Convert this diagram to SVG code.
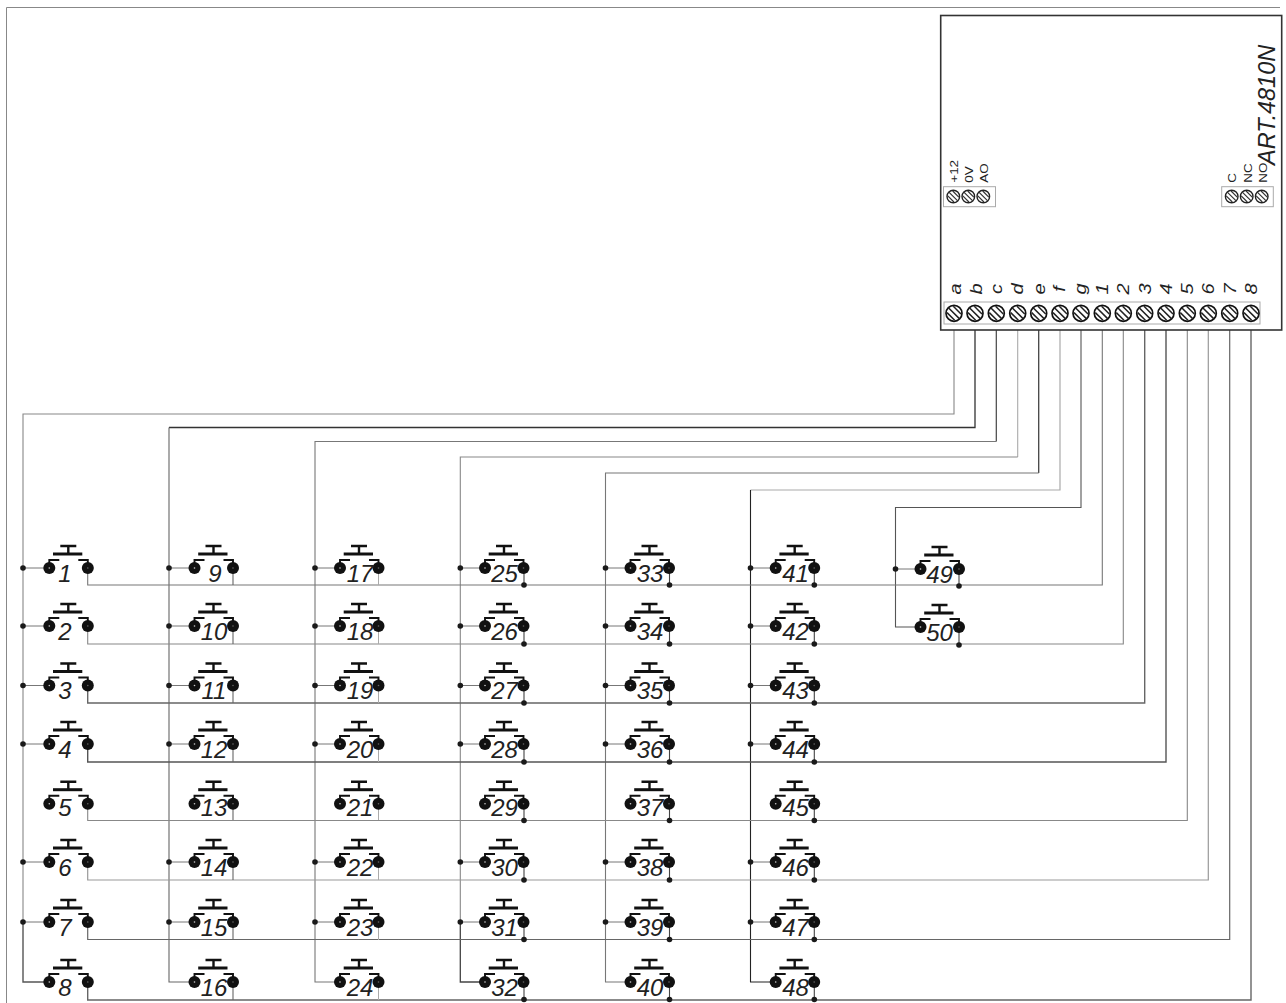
<svg xmlns="http://www.w3.org/2000/svg" width="1286" height="1003" viewBox="0 0 1286 1003">
<style>
.w{fill:none;stroke-linejoin:miter}
.t{font-family:"Liberation Sans",Arial,sans-serif;fill:#222}
.n{font-size:24px;font-style:italic;text-anchor:middle}
.l{font-size:16px;font-style:italic;text-anchor:middle}
.s{font-size:11.5px}
.d{fill:#1a1a1a}
.sb{fill:#fff;stroke:#aaa;stroke-width:1}
</style>
<defs>
<g id="btn">
<path d="M11 -22H27M19 -22V-14" fill="none" stroke="#111" stroke-width="2.4"/>
<path d="M3.7 -14H33" fill="none" stroke="#111" stroke-width="3"/>
<path d="M0 -4V-8H10M29 -8H38.5V-4" fill="none" stroke="#111" stroke-width="1.9"/>
<circle cx="0" cy="0" r="6" fill="#111"/><circle cx="0" cy="0" r="0.8" fill="#ccc"/>
<circle cx="38.5" cy="0" r="6" fill="#111"/><circle cx="38.5" cy="0" r="0.8" fill="#666"/>
</g>
<g id="scr">
<circle r="8" fill="#fff" stroke="#111" stroke-width="1.7"/>
<path d="M-5.6 -5.6L5.6 5.6M-7 -0.7L0.7 7M-0.7 -7L7 0.7" stroke="#222" stroke-width="1.5" fill="none"/>
</g>
<g id="scs">
<circle r="6.3" fill="#fff" stroke="#222" stroke-width="1.4"/>
<path d="M-4.4 -4.4L4.4 4.4M-5.5 -0.6L0.6 5.5M-0.6 -5.5L5.5 0.6" stroke="#333" stroke-width="1.2" fill="none"/>
</g>
</defs>
<rect width="1286" height="1003" fill="#fff"/>
<path id="frame" d="M6.5 1003V7.5H1280" fill="none" stroke="#888" stroke-width="1"/>

<g id="connectors" class="w">
<path d="M954 321V414H23V922" stroke="#888" stroke-width="1.1"/>
<path d="M23 922V982H44" stroke="#555" stroke-width="1.4"/>
<path d="M975 321V427.5H169" stroke="#333" stroke-width="1.3"/>
<path d="M169 427.5V982H189" stroke="#666" stroke-width="1.1"/>
<path d="M996.3 321V441.5" stroke="#444" stroke-width="1.2"/>
<path d="M996.3 441.5H315V982H335" stroke="#777" stroke-width="1.1"/>
<path d="M1017.7 321V457" stroke="#aaa" stroke-width="1.1"/>
<path d="M1017.7 457H460.3V922" stroke="#888" stroke-width="1.1"/>
<path d="M460.3 922V982H480" stroke="#444" stroke-width="1.3"/>
<path d="M1038.7 321V473" stroke="#444" stroke-width="1.3"/>
<path d="M1038.7 473H605.5V982H625" stroke="#777" stroke-width="1.1"/>
<path d="M1060 321V490H750.5" stroke="#aaa" stroke-width="1.2"/>
<path d="M750.5 490V982H770" stroke="#222" stroke-width="1.1"/>
<path d="M1081 321V507.5H895.5V627H915" stroke="#555" stroke-width="1.1"/>
<path d="M1102.3 321V585H87.7V573" stroke="#777" stroke-width="1.1"/>
<path d="M1123.3 321V644H87.7V631" stroke="#888" stroke-width="1.1"/>
<path d="M1144.7 321V703H87.7V691" stroke="#666" stroke-width="1.4"/>
<path d="M1166 321V762H87.7V749" stroke="#555" stroke-width="1.4"/>
<path d="M1187.3 321V820.5H87.7V809" stroke="#888" stroke-width="1.1"/>
<path d="M1208.3 321V880H87.7V867" stroke="#999" stroke-width="1.2"/>
<path d="M1229.7 321V939.5H87.7V927" stroke="#666" stroke-width="1.2"/>
<path d="M1251 321V1000H87.7V987" stroke="#666" stroke-width="1.4"/>
<path d="M233 568V585M233 626V644M233 685V703M233 744V762M233 803V820M233 862V880M233 922V940M233 982V1000" stroke="#666" stroke-width="1.1"/>
<path d="M378.5 568V585M378.5 626V644M378.5 685V703M378.5 744V762M378.5 803V820M378.5 862V880M378.5 922V940M378.5 982V1000" stroke="#aaa" stroke-width="1"/>
<path d="M524 568V585M524 626V644M524 685V703M524 744V762M524 803V820M524 862V880M524 922V940M524 982V1000M669.5 568V585M669.5 626V644M669.5 685V703M669.5 744V762M669.5 803V820M669.5 862V880M669.5 922V940M669.5 982V1000M814.3 568V585M814.3 626V644M814.3 685V703M814.3 744V762M814.3 803V820M814.3 862V880M814.3 922V940M814.3 982V1000M959 569V586M959 627V645" stroke="#444" stroke-width="1.1"/>
<path d="M23 568H44M23 626H44M23 685.5H44M23 744H44M23 862H44M23 922H44M169 568H189M169 626H189M169 685.5H189M169 744H189M169 862H189M169 922H189M315 568H335M315 626H335M315 685.5H335M315 744H335M315 862H335M315 922H335M460.3 568H480M460.3 626H480M460.3 685.5H480M460.3 744H480M460.3 862H480M460.3 922H480M605.5 568H625M605.5 626H625M605.5 685.5H625M605.5 744H625M605.5 862H625M605.5 922H625M750.5 568H770M750.5 626H770M750.5 685.5H770M750.5 744H770M750.5 862H770M750.5 922H770M895.5 569H915" stroke="#777" stroke-width="1"/>
<g class="d" stroke="none">
<circle cx="23" cy="568" r="2.8"/><circle cx="23" cy="626" r="2.8"/><circle cx="23" cy="685.5" r="2.8"/><circle cx="23" cy="744" r="2.8"/><circle cx="23" cy="862" r="2.8"/><circle cx="23" cy="922" r="2.8"/>
<circle cx="169" cy="568" r="2.8"/><circle cx="169" cy="626" r="2.8"/><circle cx="169" cy="685.5" r="2.8"/><circle cx="169" cy="744" r="2.8"/><circle cx="169" cy="862" r="2.8"/><circle cx="169" cy="922" r="2.8"/>
<circle cx="315" cy="568" r="2.8"/><circle cx="315" cy="626" r="2.8"/><circle cx="315" cy="685.5" r="2.8"/><circle cx="315" cy="744" r="2.8"/><circle cx="315" cy="862" r="2.8"/><circle cx="315" cy="922" r="2.8"/>
<circle cx="460.3" cy="568" r="2.8"/><circle cx="460.3" cy="626" r="2.8"/><circle cx="460.3" cy="685.5" r="2.8"/><circle cx="460.3" cy="744" r="2.8"/><circle cx="460.3" cy="862" r="2.8"/><circle cx="460.3" cy="922" r="2.8"/>
<circle cx="605.5" cy="568" r="2.8"/><circle cx="605.5" cy="626" r="2.8"/><circle cx="605.5" cy="685.5" r="2.8"/><circle cx="605.5" cy="744" r="2.8"/><circle cx="605.5" cy="862" r="2.8"/><circle cx="605.5" cy="922" r="2.8"/>
<circle cx="750.5" cy="568" r="2.8"/><circle cx="750.5" cy="626" r="2.8"/><circle cx="750.5" cy="685.5" r="2.8"/><circle cx="750.5" cy="744" r="2.8"/><circle cx="750.5" cy="862" r="2.8"/><circle cx="750.5" cy="922" r="2.8"/>
<circle cx="895.5" cy="569" r="2.8"/>
<circle cx="524" cy="585" r="2.8"/><circle cx="524" cy="644" r="2.8"/><circle cx="524" cy="703" r="2.8"/><circle cx="524" cy="762" r="2.8"/><circle cx="524" cy="820.5" r="2.8"/><circle cx="524" cy="880" r="2.8"/><circle cx="524" cy="939.5" r="2.8"/><circle cx="524" cy="999.5" r="2.8"/>
<circle cx="669.5" cy="585" r="2.8"/><circle cx="669.5" cy="644" r="2.8"/><circle cx="669.5" cy="703" r="2.8"/><circle cx="669.5" cy="762" r="2.8"/><circle cx="669.5" cy="820.5" r="2.8"/><circle cx="669.5" cy="880" r="2.8"/><circle cx="669.5" cy="939.5" r="2.8"/><circle cx="669.5" cy="999.5" r="2.8"/>
<circle cx="814.3" cy="585" r="2.8"/><circle cx="814.3" cy="644" r="2.8"/><circle cx="814.3" cy="703" r="2.8"/><circle cx="814.3" cy="762" r="2.8"/><circle cx="814.3" cy="820.5" r="2.8"/><circle cx="814.3" cy="880" r="2.8"/><circle cx="814.3" cy="939.5" r="2.8"/><circle cx="814.3" cy="999.5" r="2.8"/>
<circle cx="959" cy="586" r="2.8"/><circle cx="959" cy="645" r="2.8"/>
</g>
</g>

<g id="controller">
<rect x="940.7" y="15.5" width="341" height="314.5" fill="#fff" stroke="#333" stroke-width="1.6"/>
<text class="t" font-size="23.5" font-style="italic" transform="translate(1275 165) rotate(-90)">ART.4810N</text>
<rect class="sb" x="943.5" y="186.7" width="52" height="20"/>
<rect class="sb" x="1221.7" y="186.7" width="51.6" height="20"/>
<rect class="sb" x="944" y="302" width="316" height="22"/>
<use href="#scs" x="953.3" y="196.5"/><use href="#scs" x="968.3" y="196.5"/><use href="#scs" x="983.3" y="196.5"/>
<use href="#scs" x="1231.7" y="196.5"/><use href="#scs" x="1246.7" y="196.5"/><use href="#scs" x="1261.7" y="196.5"/>
<text class="t s" transform="translate(958.3 182.7) rotate(-90) scale(1.17 1)">+12</text>
<text class="t s" transform="translate(973 182.7) rotate(-90) scale(1.17 1)">0V</text>
<text class="t s" transform="translate(988 182.7) rotate(-90) scale(1.17 1)">AO</text>
<text class="t s" transform="translate(1236 182.7) rotate(-90) scale(1.17 1)">C</text>
<text class="t s" transform="translate(1251.5 182.7) rotate(-90) scale(1.17 1)">NC</text>
<text class="t s" transform="translate(1266.5 182.7) rotate(-90) scale(1.17 1)">NO</text>
<use href="#scr" x="954" y="313.3"/><use href="#scr" x="975" y="313.3"/><use href="#scr" x="996.3" y="313.3"/><use href="#scr" x="1017.7" y="313.3"/><use href="#scr" x="1038.7" y="313.3"/><use href="#scr" x="1060" y="313.3"/><use href="#scr" x="1081" y="313.3"/><use href="#scr" x="1102.3" y="313.3"/><use href="#scr" x="1123.3" y="313.3"/><use href="#scr" x="1144.7" y="313.3"/><use href="#scr" x="1166" y="313.3"/><use href="#scr" x="1187.3" y="313.3"/><use href="#scr" x="1208.3" y="313.3"/><use href="#scr" x="1229.7" y="313.3"/><use href="#scr" x="1251" y="313.3"/>
<text class="t l" transform="translate(960.5 289) rotate(-90) scale(1.25 1)">a</text>
<text class="t l" transform="translate(981.5 289) rotate(-90) scale(1.25 1)">b</text>
<text class="t l" transform="translate(1002 289) rotate(-90) scale(1.25 1)">c</text>
<text class="t l" transform="translate(1023 289) rotate(-90) scale(1.25 1)">d</text>
<text class="t l" transform="translate(1044.5 289) rotate(-90) scale(1.25 1)">e</text>
<text class="t l" transform="translate(1065 289) rotate(-90) scale(1.25 1)">f</text>
<text class="t l" transform="translate(1086 289) rotate(-90) scale(1.25 1)">g</text>
<text class="t l" transform="translate(1107.5 289) rotate(-90) scale(1.25 1)">1</text>
<text class="t l" transform="translate(1129 289) rotate(-90) scale(1.25 1)">2</text>
<text class="t l" transform="translate(1150.5 289) rotate(-90) scale(1.25 1)">3</text>
<text class="t l" transform="translate(1172 289) rotate(-90) scale(1.25 1)">4</text>
<text class="t l" transform="translate(1193 289) rotate(-90) scale(1.25 1)">5</text>
<text class="t l" transform="translate(1214 289) rotate(-90) scale(1.25 1)">6</text>
<text class="t l" transform="translate(1235.5 289) rotate(-90) scale(1.25 1)">7</text>
<text class="t l" transform="translate(1256.5 289) rotate(-90) scale(1.25 1)">8</text>
</g>

<g id="b1"><use href="#btn" x="49.3" y="568"/><text class="t n" x="65" y="582">1</text></g>
<g id="b2"><use href="#btn" x="49.3" y="626"/><text class="t n" x="65" y="640">2</text></g>
<g id="b3"><use href="#btn" x="49.3" y="685.5"/><text class="t n" x="65" y="699">3</text></g>
<g id="b4"><use href="#btn" x="49.3" y="744"/><text class="t n" x="65" y="758">4</text></g>
<g id="b5"><use href="#btn" x="49.3" y="803.7"/><text class="t n" x="65" y="816">5</text></g>
<g id="b6"><use href="#btn" x="49.3" y="862"/><text class="t n" x="65" y="876">6</text></g>
<g id="b7"><use href="#btn" x="49.3" y="922"/><text class="t n" x="65" y="936">7</text></g>
<g id="b8"><use href="#btn" x="49.3" y="982"/><text class="t n" x="65" y="996">8</text></g>
<g id="b9"><use href="#btn" x="194.5" y="568"/><text class="t n" x="215" y="582">9</text></g>
<g id="b10"><use href="#btn" x="194.5" y="626"/><text class="t n" x="214" y="640">10</text></g>
<g id="b11"><use href="#btn" x="194.5" y="685.5"/><text class="t n" x="214" y="699">11</text></g>
<g id="b12"><use href="#btn" x="194.5" y="744"/><text class="t n" x="214" y="758">12</text></g>
<g id="b13"><use href="#btn" x="194.5" y="803.7"/><text class="t n" x="214" y="816">13</text></g>
<g id="b14"><use href="#btn" x="194.5" y="862"/><text class="t n" x="214" y="876">14</text></g>
<g id="b15"><use href="#btn" x="194.5" y="922"/><text class="t n" x="214" y="936">15</text></g>
<g id="b16"><use href="#btn" x="194.5" y="982"/><text class="t n" x="214" y="996">16</text></g>
<g id="b17"><use href="#btn" x="340" y="568"/><text class="t n" x="360" y="582">17</text></g>
<g id="b18"><use href="#btn" x="340" y="626"/><text class="t n" x="360" y="640">18</text></g>
<g id="b19"><use href="#btn" x="340" y="685.5"/><text class="t n" x="360" y="699">19</text></g>
<g id="b20"><use href="#btn" x="340" y="744"/><text class="t n" x="360" y="758">20</text></g>
<g id="b21"><use href="#btn" x="340" y="803.7"/><text class="t n" x="360" y="816">21</text></g>
<g id="b22"><use href="#btn" x="340" y="862"/><text class="t n" x="360" y="876">22</text></g>
<g id="b23"><use href="#btn" x="340" y="922"/><text class="t n" x="360" y="936">23</text></g>
<g id="b24"><use href="#btn" x="340" y="982"/><text class="t n" x="360" y="996">24</text></g>
<g id="b25"><use href="#btn" x="485" y="568"/><text class="t n" x="504.5" y="582">25</text></g>
<g id="b26"><use href="#btn" x="485" y="626"/><text class="t n" x="504.5" y="640">26</text></g>
<g id="b27"><use href="#btn" x="485" y="685.5"/><text class="t n" x="504.5" y="699">27</text></g>
<g id="b28"><use href="#btn" x="485" y="744"/><text class="t n" x="504.5" y="758">28</text></g>
<g id="b29"><use href="#btn" x="485" y="803.7"/><text class="t n" x="504.5" y="816">29</text></g>
<g id="b30"><use href="#btn" x="485" y="862"/><text class="t n" x="504.5" y="876">30</text></g>
<g id="b31"><use href="#btn" x="485" y="922"/><text class="t n" x="504.5" y="936">31</text></g>
<g id="b32"><use href="#btn" x="485" y="982"/><text class="t n" x="504.5" y="996">32</text></g>
<g id="b33"><use href="#btn" x="630.5" y="568"/><text class="t n" x="650" y="582">33</text></g>
<g id="b34"><use href="#btn" x="630.5" y="626"/><text class="t n" x="650" y="640">34</text></g>
<g id="b35"><use href="#btn" x="630.5" y="685.5"/><text class="t n" x="650" y="699">35</text></g>
<g id="b36"><use href="#btn" x="630.5" y="744"/><text class="t n" x="650" y="758">36</text></g>
<g id="b37"><use href="#btn" x="630.5" y="803.7"/><text class="t n" x="650" y="816">37</text></g>
<g id="b38"><use href="#btn" x="630.5" y="862"/><text class="t n" x="650" y="876">38</text></g>
<g id="b39"><use href="#btn" x="630.5" y="922"/><text class="t n" x="650" y="936">39</text></g>
<g id="b40"><use href="#btn" x="630.5" y="982"/><text class="t n" x="650" y="996">40</text></g>
<g id="b41"><use href="#btn" x="775.7" y="568"/><text class="t n" x="795.5" y="582">41</text></g>
<g id="b42"><use href="#btn" x="775.7" y="626"/><text class="t n" x="795.5" y="640">42</text></g>
<g id="b43"><use href="#btn" x="775.7" y="685.5"/><text class="t n" x="795.5" y="699">43</text></g>
<g id="b44"><use href="#btn" x="775.7" y="744"/><text class="t n" x="795.5" y="758">44</text></g>
<g id="b45"><use href="#btn" x="775.7" y="803.7"/><text class="t n" x="795.5" y="816">45</text></g>
<g id="b46"><use href="#btn" x="775.7" y="862"/><text class="t n" x="795.5" y="876">46</text></g>
<g id="b47"><use href="#btn" x="775.7" y="922"/><text class="t n" x="795.5" y="936">47</text></g>
<g id="b48"><use href="#btn" x="775.7" y="982"/><text class="t n" x="795.5" y="996">48</text></g>
<g id="b49"><use href="#btn" x="920.5" y="569"/><text class="t n" x="939.5" y="583">49</text></g>
<g id="b50"><use href="#btn" x="920.5" y="627"/><text class="t n" x="939.5" y="641">50</text></g>
</svg>
